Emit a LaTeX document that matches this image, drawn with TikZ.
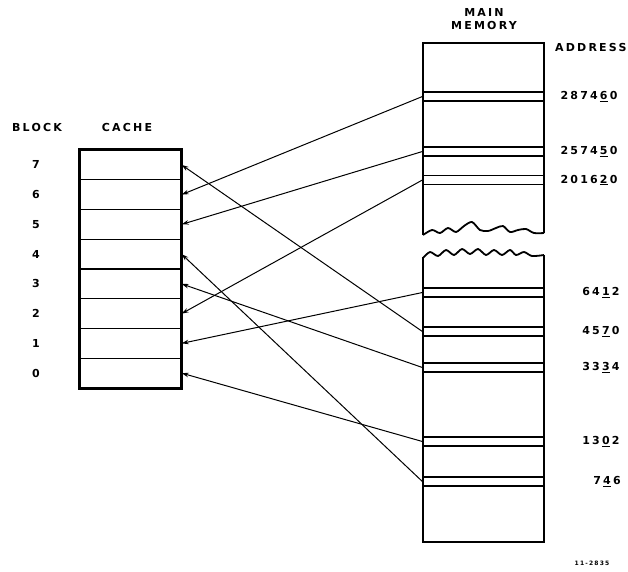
\documentclass[tikz,border=0pt]{standalone}
\usepackage{fontspec}
\newfontfamily\lettering{DejaVu Sans Bold}[LetterSpace=20]
\usepackage{tikz}
\usetikzlibrary{arrows,arrows.meta,positioning,calc}

% underlined digit inside a letterspaced number
\newcommand\ud[1]{\kern.2em\underline{#1}\kern.2em}

\begin{document}
\begin{tikzpicture}[
    x=1pt, y=-1pt,
    cacherow/.style={rectangle, draw, line width=1.3pt, minimum width=101pt, minimum height=29.75pt, inner sep=0pt},
    band/.style={rectangle, draw, line width=1.2pt, minimum width=121pt, minimum height=9pt, inner sep=0pt},
    lbl/.style={font=\lettering\fontsize{11}{13.5}\selectfont, inner sep=0pt, align=center},
    arrow/.style={->, >={Stealth[length=7pt,width=4.5pt]}, line width=1pt}
]
\useasboundingbox (0,0) rectangle (628,571);

% Cache
\node[lbl] (blk) at (37,127) {BLOCK};
\node[lbl] (cache) at (127,127) {CACHE};
\foreach \b in {0,...,7} {
    \node[cacherow] (c\b) at (130.5,{388-(\b+0.5)*29.75}) {};
    \node[lbl] (b\b) at (36,{388-(\b+0.5)*29.75}) {\b};
}
\draw[line width=2.2pt] (c7.north west) rectangle (c0.south east);

% Main memory
\node[lbl] (mm) at (484,19) {MAIN\\MEMORY};
\node[lbl, anchor=west] (addr) at (555,47) {ADDRESS};
\draw[line width=2.2pt] (423,235) -- (423,43) -- (544,43) -- (544,233);
\draw[line width=1.8pt] plot[smooth] coordinates {(423,235) (432,230) (440,233) (448,228) (456,232) (464,226) (472,222) (480,230) (488,231) (496,228) (503,226) (510,232) (518,230) (526,229) (534,233) (544,233)};
\draw[line width=1.8pt] plot[smooth] coordinates {(423,258) (430,252) (438,256) (446,250) (454,255) (462,249) (470,254) (478,249) (486,255) (494,250) (502,255) (510,250) (516,255) (524,252) (532,256) (544,255)};
\draw[line width=2.2pt] (423,257) -- (423,542) -- (544,542) -- (544,255);

\foreach \m/\y/\x/\txt in {287460/96.5/589/{2874\ud{6}0},
                           257450/151.5/589/{2574\ud{5}0},
                           201620/180/589/{2016\ud{2}0},
                           6412/292.5/601/{64\ud{1}2},
                           4570/331.5/601/{45\ud{7}0},
                           3334/367.5/601/{33\ud{3}4},
                           1302/441.5/601/{13\ud{0}2},
                           746/481.5/607/{7\ud{4}6}} {
    \node[band] (m\m) at (483.5,\y) {};
    \node[lbl] (a\m) at (\x,\y) {\txt};
}

% Mapping
\foreach \m/\c in {287460/6, 257450/5, 201620/2, 6412/1, 4570/7, 3334/3, 1302/0, 746/4}
    \draw[arrow] (m\m.west) -- (c\c.east);

\node[font=\lettering\fontsize{6}{7}\selectfont] (fig) at (592,563) {11-2835};

\end{tikzpicture}
\end{document}
